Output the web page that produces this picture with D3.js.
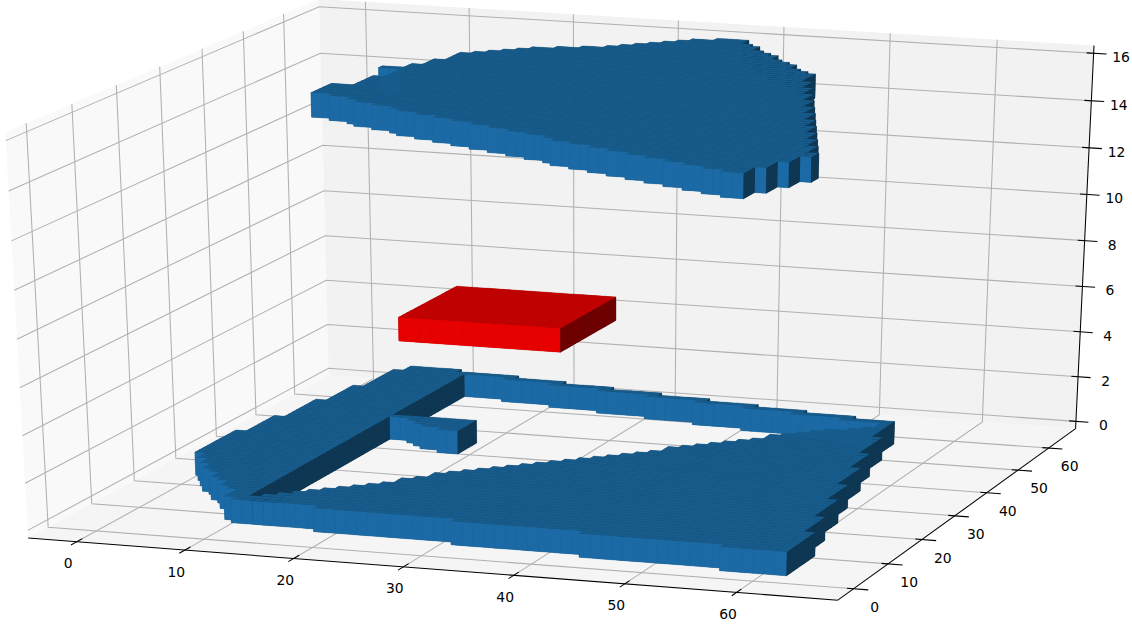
<!DOCTYPE html><html><head><meta charset="utf-8"><script src="https://cdn.jsdelivr.net/npm/d3@7"></script></head><body style="margin:0;background:#fff"><script>
// ---------- axis data ----------
const xTicks=[0,10,20,30,40,50,60];
const yTicks=[0,10,20,30,40,50,60];
const zTicks=[0,2,4,6,8,10,12,14,16];
const xLim=[-4.5,69], yLim=[-4.5,69], zLim=[-0.33,16.33];
// ---------- voxel rows: [y, xStart, xEnd] ----------
const bottomFrontRows=[[0,57,63],[1,44,63],[2,32,63],[3,19,63],[4,11,63],[5,10,63]];
const bottomWingStart=[10,10,9,8,8,7,6,6,5,4,4,3,3,2,2,1,1,1,1,1,1,1,1,1,1,2,2,2,2,2,2,2,3,3,3,3,3,3,3,3,4,4,4,4,4,4,4,5,5,5,5,5,5,5,5,6,6]; // y = 6..62
const bottomTriStart=[13,14,15,16,17,18,19,20,21,22,22,23,24,24,25,26,27,28,29,30,31,32,33,34,35,36,37,38,39,40,40,41,42,43,44,45,46,47,47,48,49,50,51,53,54,55,55]; // y = 6..52
const bottomTriEnd=[63,63,62,62,62,62,62,62,61,61,61,61,61,61,61,60,60,60,60,60,60,59,59,59,59,59,59,59,58,58,58,58,58,58,57,57,57,57,57,57,57,56,56,56,56,56,56]; // y = 6..52
const bottomStrip=[[61,12,17],[60,16,22],[59,21,27],[58,26,32],[57,31,37],[56,36,42],[55,41,47],[54,46,52],[53,51,56]];
const bottomStub=[[41,12,20],[40,14,20],[39,15,20],[38,16,20],[37,18,20]];
const redRows=[[25,19,34],[26,19,34],[27,19,34],[28,19,34],[29,19,34],[30,19,34],[31,19,34],[32,19,34],[33,19,34],[34,19,34],[35,19,34],[36,19,34],[37,19,34],[38,19,34],[39,19,34]];
const topStart=[56,54,52,50,48,46,44,42,40,38,37,35,33,31,29,27,25,23,21,20,18,16,15,13,11,11,11,11,11,13,13,13,13,13,14,14,14,14,12,14,14,15,15,15,16,16,16,16,17,18,19,20,21,23,25,27,28,29,30,31,32,33,35]; // y = 2..64
const topEnd=[58,58,58,59,59,59,60,60,60,61,61,60,60,60,59,59,59,58,58,58,57,57,57,56,56,56,55,55,55,54,54,54,53,53,53,52,52,52,51,51,51,50,50,50,49,49,49,49,48,47,46,46,45,44,43,43,42,41,40,40,39,38,38]; // y = 2..64
const slabs=[
 {name:'bottom',z:0,palette:['#175c8c','#1b6aa5','#0e3754'],under:['#10476e','#165b8c','#0b2e47'],seam:['#10486f','#17619a','#0c3049']},
 {name:'red',z:6,palette:['#c20000','#e60000','#6e0000'],under:['#a80000','#cc0000','#5c0000'],seam:['#a80000','#d40000','#600000']},
 {name:'top',z:15,palette:['#175c8c','#1b6aa5','#0e3754'],under:['#10476e','#165b8c','#0b2e47'],seam:['#10486f','#17619a','#0c3049']}
];
function rowsFrom(first,starts,ends){return starts.map((s,i)=>[first+i,s,ends[i]]);}
const rowSets={
 bottom:[...bottomFrontRows,...rowsFrom(6,bottomWingStart,bottomWingStart.map((s,i)=>i<56?12:11)),...rowsFrom(6,bottomTriStart,bottomTriEnd),...bottomStrip,...bottomStub],
 red:redRows,
 top:rowsFrom(2,topStart,topEnd)
};
// ---------- camera, fitted to axis and voxel landmarks ----------
const [L,H]=xLim, ZL=zLim[0], ZH=zLim[1];
const sX=d3.scaleLinear([0,80],[0,1]), sY=d3.scaleLinear([0,80],[0,1]), sZ=d3.scaleLinear([0,20],[0,1]), sP=d3.scaleLinear([0,600],[0,1]);
const landmarks=[[0,L,ZL,76,541],[10,L,ZL,185,549.5],[20,L,ZL,294,558],[30,L,ZL,404,567],[40,L,ZL,516,576],[50,L,ZL,627,585],[60,L,ZL,739,594],[L,L,ZL,27,537],[H,L,ZL,835,601],
[H,0,ZL,850.4,590],[H,10,ZL,887,563.7],[H,20,ZL,920.7,539.7],[H,30,ZL,953.4,516.3],[H,40,ZL,987,492.3],[H,50,ZL,1017.7,470.3],[H,60,ZL,1048.3,448.3],[H,H,ZL,1075,429],
[H,H,0,1076,422],[H,H,16,1094.3,52],[H,H,14,1091.7,99.3],[H,H,12,1089,146.7],[H,H,10,1086.7,193.7],
[L,H,16,318.3,8.3],[L,H,14,320,55],[L,H,12,321,101],[L,H,10,322.3,146.7],[L,H,8,323.3,191.7],[L,H,0,327.7,366],
[L,L,16,5,140.7],[L,L,14,8.3,191],[L,L,0,26.7,529.3],
[19,25,7,399.3,316.7],[34,25,7,561.7,327.3],[34,40,7,617,296.7],[19,40,7,457.3,286],[19,25,6,399.3,340.7],[34,25,6,561.7,351.7],[34,40,6,617,320],
[11,26,16,312.7,92.3],[11,26,15,312.7,117],[58,2,16,742,173.3],[58,2,15,742,199],[63,0,1,788.3,552.3],[63,0,0,787.3,576],[56,54,1,896.7,421.7]];
function solve(A,b){const n=b.length,M=A.map((r,i)=>[...r,b[i]]);for(let i=0;i<n;i++){let p=i;for(let k=i;k<n;k++)if(Math.abs(M[k][i])>Math.abs(M[p][i]))p=k;[M[i],M[p]]=[M[p],M[i]];for(let k=0;k<n;k++)if(k!=i){const f=M[k][i]/M[i][i];for(let j=i;j<=n;j++)M[k][j]-=f*M[i][j];}}return M.map((r,i)=>r[n]/r[i]);}
const eq=[],rhs=[];landmarks.forEach(([a,b,c,d,e])=>{const x=sX(a),y=sY(b),z=sZ(c),u=sP(d),v=sP(e);eq.push([x,y,z,1,0,0,0,0,-u*x,-u*y,-u*z]);rhs.push(u);eq.push([0,0,0,0,x,y,z,1,-v*x,-v*y,-v*z]);rhs.push(v);});
const idx=d3.range(11);
const P=solve(idx.map(i=>idx.map(j=>d3.sum(eq,r=>r[i]*r[j]))),idx.map(i=>d3.sum(eq,(r,k)=>r[i]*rhs[k])));
function proj(a,b,c){const x=sX(a),y=sY(b),z=sZ(c),w=P[8]*x+P[9]*y+P[10]*z+1;return[sP.invert((P[0]*x+P[1]*y+P[2]*z+P[3])/w),sP.invert((P[4]*x+P[5]*y+P[6]*z+P[7])/w)];}
// ---------- drawing ----------
const svg=d3.select('body').append('svg').attr('width',1132).attr('height',624).style('display','block').style('font-family','"DejaVu Sans"');
const line=d3.line();
const poly=pts=>line(pts.map(p=>proj(...p)))+'Z';
const panes=[
 {c:'#f9f9f9',p:[[L,L,ZL],[L,H,ZL],[L,H,ZH],[L,L,ZH]]},
 {c:'#f2f2f2',p:[[L,H,ZL],[H,H,ZL],[H,H,ZH],[L,H,ZH]]},
 {c:'#f5f5f5',p:[[L,L,ZL],[H,L,ZL],[H,H,ZL],[L,H,ZL]]}];
svg.append('g').selectAll('path').data(panes).join('path').attr('d',d=>poly(d.p)).attr('fill',d=>d.c);
const grid=[...xTicks.map(t=>[[t,L,ZL],[t,H,ZL],[t,H,ZH]]),...yTicks.map(t=>[[H,t,ZL],[L,t,ZL],[L,t,ZH]]),...zTicks.map(t=>[[L,L,t],[L,H,t],[H,H,t]])];
svg.append('g').selectAll('path').data(grid).join('path').attr('d',d=>line(d.map(p=>proj(...p)))).attr('fill','none').attr('stroke','#b0b0b0').attr('stroke-width',1.05);
const axes=[[[L,L,ZL],[H,L,ZL]],[[H,L,ZL],[H,H,ZL]],[[H,H,ZL],[H,H,ZH]]];
svg.append('g').selectAll('path').data(axes).join('path').attr('d',d=>line(d.map(p=>proj(...p)))).attr('stroke','#000').attr('stroke-width',1.05).attr('fill','none');
const tickSegs=[...xTicks.map(t=>[[t,L-1.3,ZL],[t,L+1.3,ZL]]),...yTicks.map(t=>[[H-.6,t,ZL],[H+1.3,t,ZL]]),...zTicks.map(t=>[[H-.65,H,t],[H+1.2,H,t]])];
svg.append('g').selectAll('path').data(tickSegs).join('path').attr('d',d=>line(d.map(p=>proj(...p)))).attr('stroke','#000').attr('stroke-width',1.05).attr('fill','none');
const labels=[...xTicks.map(t=>({t,p:proj(t,L,ZL),dx:-8.5,dy:21.5})),...yTicks.map(t=>({t,p:proj(H,t,ZL),dx:21,dy:18})),...zTicks.map(t=>({t,p:proj(H,H,t),dx:27.5,dy:4}))];
svg.append('g').selectAll('text').data(labels).join('text').attr('x',d=>d.p[0]+d.dx).attr('y',d=>d.p[1]+d.dy).attr('text-anchor','middle').attr('dominant-baseline','central').attr('font-size',13.9).attr('fill','#000').text(d=>d.t);
// voxels: only faces looking at the camera and not covered by a neighbour
function facesOf(slab){
 const cells=new Set();
 rowSets[slab.name].forEach(([y,a,b])=>{for(let x=a;x<b;x++)cells.add(x+','+y);});
 const list=[...cells].map(k=>k.split(',').map(Number)).sort((u,v)=>d3.descending(u[1],v[1])||d3.ascending(u[0],v[0]));
 const z0=slab.z,z1=slab.z+1,out=[];
 list.forEach(([x,y])=>{
  out.push({k:0,p:[[x,y,z1],[x+1,y,z1],[x+1,y+1,z1],[x,y+1,z1]],s:[[x,y,z1],[x+1,y,z1]]});
  if(!cells.has(x+','+(y-1)))out.push({k:1,p:[[x,y,z0],[x+1,y,z0],[x+1,y,z1],[x,y,z1]],s:[[x,y,z0],[x,y,z1]]});
  if(!cells.has((x+1)+','+y))out.push({k:2,p:[[x+1,y,z0],[x+1,y+1,z0],[x+1,y+1,z1],[x+1,y,z1]],s:[[x+1,y,z0],[x+1,y,z1]]});
 });
 return out;
}
slabs.forEach(slab=>{
 const faces=facesOf(slab).map(f=>({...f,d:poly(f.p),e:line(f.s.map(q=>proj(...q)))}));
 const g=svg.append('g');
 g.append('g').selectAll('path').data(faces).join('path').attr('d',d=>d.d).attr('fill',d=>slab.under[d.k]).attr('stroke',d=>slab.under[d.k]).attr('stroke-width',.4);
 const items=faces.flatMap(f=>[{d:f.d,fill:slab.palette[f.k],stroke:'none',w:0},{d:f.e,fill:'none',stroke:slab.seam[f.k],w:f.k?.3:.25}]);
 g.append('g').selectAll('path').data(items).join('path').attr('d',d=>d.d).attr('fill',d=>d.fill).attr('stroke',d=>d.stroke).attr('stroke-width',d=>d.w);
});
</script></body></html>
